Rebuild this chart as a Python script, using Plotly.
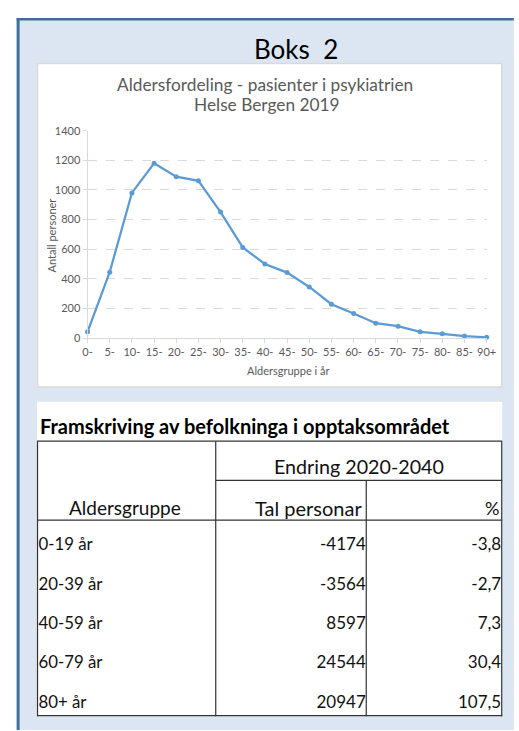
import plotly.graph_objects as go

# ---------------- data ----------------
age_groups = ["0-", "5-", "10-", "15-", "20-", "25-", "30-", "35-", "40-", "45-",
              "50-", "55-", "60-", "65-", "70-", "75-", "80-", "85-", "90+"]
patients = [42, 445, 980, 1180, 1090, 1062, 851, 612, 500, 442,
            345, 228, 166, 100, 80, 42, 28, 13, 5]
y_ticks = [0, 200, 400, 600, 800, 1000, 1200, 1400]

table_groups = ["0-19 år", "20-39 år", "40-59 år", "60-79 år", "80+ år"]
table_count = [-4174, -3564, 8597, 24544, 20947]
table_pct = [-3.8, -2.7, 7.3, 30.4, 107.5]

# ---------------- layout helpers ----------------
W, H = 519, 731
FONT = "Lato, Carlito, 'Open Sans', sans-serif"
GRAY_TXT = "#595959"
LINE_BLUE = "#5B9BD5"


def X(px):
    return px / W


def Y(py):
    return 1 - py / H


fig = go.Figure()

# line chart
fig.add_trace(go.Scatter(
    x=age_groups, y=patients, mode="lines+markers",
    line=dict(color=LINE_BLUE, width=2.25),
    marker=dict(color=LINE_BLUE, size=5),
    cliponaxis=False, hoverinfo="x+y", showlegend=False,
    xaxis="x", yaxis="y",
))

# table body via text traces on a hidden axis pair
rows = list(range(len(table_groups)))
fmt_pct = [f"{v:.1f}".replace(".", ",") for v in table_pct]
fmt_cnt = [str(v) for v in table_count]
COL_LABEL_X, COL_CNT_X, COL_PCT_X = 34.5, 371.5, 511
for xs, txt, pos, fs in [
    ([COL_LABEL_X] * len(rows), table_groups, "middle right", 16.8),
    ([COL_CNT_X] * len(rows), fmt_cnt, "middle left", 17),
    ([COL_PCT_X] * len(rows), fmt_pct, "middle left", 17),
]:
    fig.add_trace(go.Scatter(
        x=xs, y=rows, text=txt, mode="text", textposition=pos,
        textfont=dict(family=FONT, size=fs, color="#111111"),
        cliponaxis=False, hoverinfo="skip", showlegend=False,
        xaxis="x2", yaxis="y2",
    ))

shapes = []
# light blue box with dark blue border on left/top
shapes.append(dict(type="rect", xref="paper", yref="paper", x0=X(13), x1=X(W + 5), y0=Y(H + 5), y1=Y(13),
                   fillcolor="#dce6f2", line=dict(width=0), layer="below"))
shapes.append(dict(type="line", xref="paper", yref="paper", x0=X(13.5), x1=X(13.5), y0=Y(H + 5), y1=Y(11.5),
                   line=dict(color="#3f6e9e", width=3), layer="below"))
shapes.append(dict(type="line", xref="paper", yref="paper", x0=X(12), x1=X(W + 5), y0=Y(12.5), y1=Y(12.5),
                   line=dict(color="#3f6e9e", width=2.5), layer="below"))
# chart panel
shapes.append(dict(type="rect", xref="paper", yref="paper", x0=X(33.5), x1=X(511.5), y0=Y(387), y1=Y(57.5),
                   fillcolor="white", line=dict(color="#d9d9d9", width=1.5), layer="below"))
# table panel
shapes.append(dict(type="rect", xref="paper", yref="paper", x0=X(33), x1=X(512), y0=Y(722), y1=Y(402),
                   fillcolor="white", line=dict(width=0), layer="below"))
# table grid lines
TL = dict(color="#333333", width=1.2)
tbl_lines = [
    (33, 442, 512, 442),
    (33, 522.5, 512, 522.5),
    (33, 721.5, 512, 721.5),
    (217, 482, 512, 482),
    (33.5, 442, 33.5, 722),
    (217, 442, 217, 722),
    (372, 482, 372, 722),
    (511.5, 442, 511.5, 722),
]
for x0, y0, x1, y1 in tbl_lines:
    shapes.append(dict(type="line", xref="paper", yref="paper", x0=X(x0), x1=X(x1), y0=Y(y0), y1=Y(y1),
                       line=TL, layer="above"))

annotations = [
    dict(text="Boks  2", x=X(300), y=Y(43), font=dict(family=FONT, size=26, color="black")),
    dict(text="Aldersfordeling - pasienter i psykiatrien", x=X(268), y=Y(79),
         font=dict(family=FONT, size=17.3, color=GRAY_TXT)),
    dict(text="Helse Bergen 2019", x=X(270), y=Y(99), font=dict(family=FONT, size=17.3, color=GRAY_TXT)),
    dict(text="Antall personer", x=X(48), y=Y(233), textangle=-90,
         font=dict(family=FONT, size=11, color=GRAY_TXT)),
    dict(text="Aldersgruppe i år", x=X(291), y=Y(370), font=dict(family=FONT, size=11, color=GRAY_TXT)),
    dict(text="<b>Framskriving av befolkninga i opptaksområdet</b>", x=X(34), y=Y(427), xanchor="left",
         font=dict(family=FONT, size=20, color="black")),
    dict(text="Endring 2020-2040", x=X(365), y=Y(468), font=dict(family=FONT, size=19.7, color="#111111")),
    dict(text="Aldersgruppe", x=X(124), y=Y(510), font=dict(family=FONT, size=19, color="#111111")),
    dict(text="Tal personar", x=X(370), y=Y(510), xanchor="right", font=dict(family=FONT, size=20, color="#111111")),
    dict(text="%", x=X(511), y=Y(510), xanchor="right", font=dict(family=FONT, size=18, color="#111111")),
]
for a in annotations:
    a.setdefault("xanchor", "center")
    a.update(xref="paper", yref="paper", yanchor="middle", showarrow=False)

fig.update_layout(
    width=W, height=H,
    margin=dict(l=0, r=0, t=0, b=0),
    paper_bgcolor="white", plot_bgcolor="rgba(0,0,0,0)",
    font=dict(family=FONT, color=GRAY_TXT),
    shapes=shapes, annotations=annotations, showlegend=False,
    xaxis=dict(
        domain=[X(85), X(496)], anchor="y", type="category", range=[0, len(age_groups) - 1],
        showgrid=False, showline=True, linecolor="#d9d9d9", linewidth=1,
        ticks="outside", ticklen=4, tickcolor="#d9d9d9",
        tickfont=dict(family=FONT, size=11, color=GRAY_TXT), fixedrange=True,
    ),
    yaxis=dict(
        domain=[Y(337), Y(126)], anchor="x", range=[0, 1400], tickvals=y_ticks,
        showgrid=True, gridcolor="#d9d9d9", griddash="dash", gridwidth=1, zeroline=False,
        showline=True, linecolor="#d9d9d9", linewidth=1,
        ticks="outside", ticklen=4, tickcolor="#d9d9d9",
        tickfont=dict(family=FONT, size=11, color=GRAY_TXT), fixedrange=True,
    ),
    xaxis2=dict(domain=[0, 1], range=[0, W], anchor="y2", visible=False, fixedrange=True),
    yaxis2=dict(domain=[Y(729), Y(529)], range=[len(rows) - 0.5, -0.5], anchor="x2",
                visible=False, fixedrange=True),
)

fig.write_html(
    "out.html",
    config={"displayModeBar": False, "responsive": False},
    post_script="document.body.style.margin='0';document.body.style.overflow='hidden';",
)
